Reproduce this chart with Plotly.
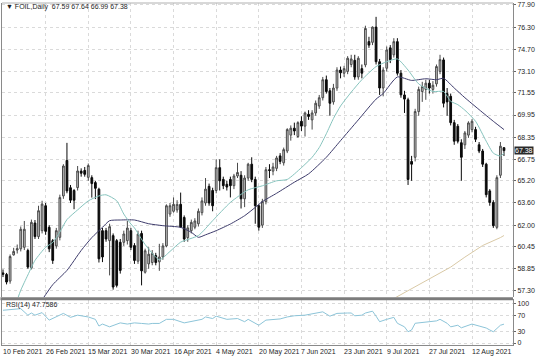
import plotly.graph_objects as go

# ---------------- data ----------------
opens = [58.55, 58.44, 57.96, 59.85, 60.20, 60.29, 60.40, 60.17, 58.92, 62.15,
         61.17, 61.60, 63.40, 61.84, 60.88, 60.50, 61.12, 64.11, 66.67, 64.70,
         64.50, 64.71, 65.90, 65.95, 65.45, 65.43, 65.07, 64.59, 61.60, 61.60,
         60.88, 61.24, 60.88, 60.76, 60.76, 60.88, 61.60, 60.52, 59.40, 61.40,
         58.60, 59.20, 59.30, 59.80, 59.35, 59.70, 60.50, 62.80, 63.00, 63.10,
         63.50, 62.55, 61.10, 61.60, 61.85, 62.10, 62.90, 63.60, 64.80, 64.50,
         64.50, 66.15, 65.30, 64.95, 65.30, 64.85, 65.55, 65.60, 63.90, 65.40,
         66.40, 65.30, 63.40, 62.00, 63.70, 66.00, 65.90, 66.10, 67.00, 66.50,
         67.35, 68.50, 69.00, 68.40, 69.50, 69.15, 70.00, 69.60, 70.10, 70.60,
         71.20, 72.50, 71.70, 70.90, 71.90, 73.20, 72.97, 73.10, 73.60, 73.90,
         72.70, 73.30, 73.57, 75.25, 75.20, 76.30, 73.80, 71.90, 73.33, 74.80,
         74.30, 75.25, 72.97, 71.40, 71.05, 66.60, 66.90, 70.20, 71.65, 71.80,
         72.25, 71.80, 72.20, 73.10, 73.93, 71.50, 71.30, 69.40, 69.14, 67.95,
         67.80, 68.50, 68.90, 68.90, 67.80, 67.35, 66.40, 64.47, 63.64, 61.84,
         65.60, 67.59]
highs = [58.80, 58.55, 59.88, 60.36, 60.60, 61.90, 62.30, 60.30, 62.40, 62.37,
         63.40, 63.76, 63.60, 62.00, 61.00, 61.80, 64.20, 66.40, 67.94, 64.90,
         64.60, 66.27, 66.10, 66.20, 66.45, 65.60, 65.20, 64.70, 61.80, 61.80,
         62.10, 61.40, 61.00, 61.00, 61.60, 62.30, 61.80, 60.70, 61.60, 61.60,
         60.30, 60.40, 60.20, 60.00, 60.65, 60.70, 63.50, 63.60, 64.00, 63.80,
         64.35, 62.70, 62.00, 62.40, 62.50, 63.20, 64.00, 65.40, 65.00, 64.70,
         66.75, 66.75, 65.50, 65.20, 65.50, 65.70, 66.50, 65.90, 65.60, 66.50,
         66.90, 65.50, 63.50, 63.90, 66.20, 66.40, 66.50, 67.00, 67.20, 67.60,
         69.00, 69.20, 69.40, 69.50, 69.86, 70.20, 70.30, 70.30, 71.00, 71.40,
         72.70, 72.80, 71.90, 72.20, 73.40, 73.45, 73.50, 74.20, 74.30, 74.30,
         74.20, 73.60, 76.40, 75.60, 76.35, 77.04, 74.00, 73.40, 74.90, 75.00,
         75.50, 75.50, 73.20, 71.70, 71.20, 67.00, 70.40, 72.00, 72.35, 72.50,
         72.50, 72.40, 73.60, 74.30, 74.10, 71.90, 71.50, 69.60, 69.30, 68.20,
         68.80, 69.50, 69.65, 69.10, 68.00, 67.50, 66.50, 64.60, 63.80, 65.60,
         68.00, 67.64]
lows = [58.25, 57.72, 57.77, 59.80, 59.95, 60.10, 60.20, 58.85, 58.80, 61.00,
        61.00, 61.40, 61.30, 60.05, 59.20, 60.30, 60.90, 63.90, 64.30, 63.60,
        63.15, 64.50, 65.50, 65.50, 65.20, 63.99, 63.88, 59.30, 59.33, 60.80,
        58.37, 57.34, 57.50, 58.50, 60.50, 60.60, 60.20, 59.20, 59.20, 57.65,
        58.50, 58.85, 59.10, 59.10, 58.70, 59.50, 60.40, 62.60, 62.90, 62.90,
        61.80, 60.80, 60.80, 61.40, 61.70, 61.90, 62.70, 63.40, 63.40, 63.00,
        64.30, 64.50, 64.60, 64.50, 64.00, 64.60, 65.40, 63.20, 63.30, 65.20,
        65.10, 62.10, 61.60, 61.80, 63.50, 65.40, 65.60, 65.90, 66.40, 66.30,
        67.20, 68.10, 68.50, 68.30, 68.80, 68.40, 69.60, 68.90, 69.90, 70.40,
        71.00, 71.50, 69.90, 70.70, 71.70, 72.60, 72.70, 72.90, 73.40, 72.50,
        72.50, 72.60, 73.40, 74.80, 75.00, 73.60, 71.40, 71.30, 73.10, 73.70,
        74.10, 72.80, 71.20, 70.10, 64.90, 65.20, 66.60, 69.90, 70.90, 71.05,
        71.50, 71.50, 72.00, 72.90, 70.50, 69.90, 69.20, 67.80, 67.90, 65.20,
        67.50, 68.30, 68.70, 68.00, 67.20, 66.20, 64.00, 63.40, 61.80, 61.70,
        65.40, 66.99]
closes = [58.45, 57.89, 59.73, 60.10, 60.30, 61.70, 61.70, 58.97, 62.20, 61.17,
          63.04, 63.52, 61.55, 60.29, 59.45, 61.60, 63.99, 66.27, 64.47, 63.80,
          63.80, 65.91, 65.75, 65.67, 66.30, 65.00, 64.66, 59.57, 59.70, 61.00,
          61.89, 57.53, 57.65, 58.73, 61.36, 61.79, 60.40, 59.45, 61.35, 58.70,
          60.15, 59.90, 59.95, 59.30, 59.70, 60.50, 63.40, 63.40, 63.50, 63.50,
          61.85, 61.00, 61.80, 62.20, 62.30, 63.00, 63.75, 64.60, 63.60, 63.40,
          66.15, 65.20, 64.85, 64.75, 64.85, 65.55, 65.80, 63.90, 65.40, 66.40,
          65.30, 63.40, 61.85, 63.70, 66.00, 65.95, 66.20, 66.85, 66.60, 67.45,
          68.90, 69.00, 68.80, 69.40, 69.15, 70.10, 69.85, 70.10, 70.80, 71.20,
          72.50, 71.65, 70.80, 71.90, 73.20, 73.00, 73.30, 74.05, 74.00, 72.70,
          74.05, 72.97, 76.20, 75.00, 76.30, 73.80, 71.90, 73.20, 74.65, 73.95,
          75.25, 72.97, 71.41, 71.10, 65.30, 66.40, 70.20, 71.80, 72.00, 72.25,
          71.90, 72.10, 73.45, 73.95, 70.80, 70.90, 69.40, 68.06, 68.06, 66.90,
          68.66, 69.38, 69.50, 68.20, 67.35, 66.40, 64.20, 63.64, 61.96, 65.43,
          67.70, 67.38]
bars = list(range(len(closes)))

# moving averages read at sampled bars
fast_ma_idx = [4, 5, 7, 9, 12, 14, 16, 18, 21, 24, 27, 29, 32, 34, 36, 37, 40, 44,
               47, 50, 55, 59, 64, 69, 73, 77, 80, 84, 87, 89, 91, 93, 95, 98, 101,
               105, 108, 111, 114, 117, 121, 124, 126, 128, 130, 133, 136, 138, 140, 141]
fast_ma_val = [56.60, 57.30, 58.40, 59.45, 60.40, 60.75, 61.50, 62.40, 63.10, 63.75,
               64.11, 64.19, 63.76, 62.80, 62.08, 61.80, 60.60, 59.50,
               60.10, 60.77, 61.25, 62.32, 63.64, 64.55, 64.84, 65.20, 65.30, 66.15,
               66.90, 67.60, 68.60, 69.70, 70.60, 71.60, 72.50,
               73.45, 73.80, 74.00, 73.20, 72.20, 71.65, 71.65, 70.94, 70.70, 70.30,
               69.50, 68.06, 67.20, 66.99, 67.20]
slow_ma_idx = [11, 14, 18, 22, 25, 28, 30, 33, 37, 41, 45, 50, 53, 55, 57, 60, 64,
               68, 71, 73, 77, 82, 86, 91, 95, 100, 105, 107, 111, 115, 119, 122,
               124, 127, 130, 134, 138, 141]
slow_ma_val = [56.60, 57.70, 58.73, 60.17, 61.10, 61.84, 62.32, 62.37, 62.37, 62.10,
               61.96, 61.84, 61.48, 61.12, 61.30, 61.60, 62.08, 62.68, 63.28, 63.70,
               64.30, 65.10, 65.70, 66.90, 68.10, 69.60, 71.10, 71.50, 72.70, 72.45,
               72.57, 72.50, 72.60, 71.90, 71.20, 70.34, 69.50, 68.90]
long_ma_idx = [110, 119, 121, 126, 130, 135, 140, 141]
long_ma_val = [56.70, 58.00, 58.25, 58.97, 59.69, 60.53, 61.10, 61.25]

rsi_idx = [0, 2, 5, 7, 8, 9, 11, 13, 16, 17, 19, 21, 24, 26, 27, 28, 30, 31, 33, 35,
           37, 39, 41, 42, 44, 46, 48, 51, 54, 56, 57, 59, 60, 63, 66, 68, 69, 72,
           74, 77, 78, 80, 82, 85, 86, 88, 90, 92, 94, 97, 98, 99, 101, 102, 104,
           105, 106, 108, 110, 111, 113, 114, 115, 116, 118, 120, 122, 123, 125,
           126, 128, 129, 132, 134, 136, 137, 138, 140, 141]
rsi_val = [83, 85, 87, 70.5, 76, 70.5, 77, 58, 70.5, 75, 65, 70.5, 66, 60, 43, 48,
           41, 45, 51, 48, 51, 49.6, 48, 49.6, 49.6, 60, 60, 51, 56, 60, 66, 62, 68,
           60, 62, 54, 60, 45, 58, 60, 61, 66, 69, 70.5, 72, 75, 79, 68, 75, 76, 76,
           69, 70.5, 76, 80.6, 68, 54, 60, 65, 50, 41, 28.5, 33, 50, 52, 53, 56, 60,
           50, 41, 45, 38.5, 48, 43, 38, 33, 28.5, 45, 47.7586]

date_tick_idx = [0, 12, 24, 36, 48, 60, 72, 84, 96, 108, 120, 132]
date_tick_text = ["10 Feb 2021", "26 Feb 2021", "15 Mar 2021", "30 Mar 2021",
                  "16 Apr 2021", "4 May 2021", "20 May 2021", "7 Jun 2021",
                  "23 Jun 2021", "9 Jul 2021", "27 Jul 2021", "12 Aug 2021"]
price_ticks = [77.90, 76.30, 74.70, 73.10, 71.55, 69.95, 68.35, 66.75, 65.20,
               63.60, 62.00, 60.45, 58.85, 57.30]
rsi_ticks = [100, 70, 30, 0]

# ---------------- figure ----------------
W, H = 536, 357
ML, MR, MT, MB = 1, 23, 1, 12
PH = H - MT - MB
main_dom = [(345 - 297) / PH, 1.0]
rsi_dom = [0.0, 45 / PH]
FONT = "Liberation Sans, Arial, sans-serif"
TXT = "#1e1e1e"
GRID = "#dadada"

fig = go.Figure()
fig.add_trace(go.Candlestick(
    x=bars, open=opens, high=highs, low=lows, close=closes,
    increasing=dict(line=dict(color="#4a4a4a", width=1), fillcolor="#c6c6c6"),
    decreasing=dict(line=dict(color="#0a0a0a", width=1), fillcolor="#0a0a0a"),
    whiskerwidth=0, showlegend=False, hoverinfo="skip",
    xaxis="x", yaxis="y"))
fig.add_trace(go.Scatter(x=long_ma_idx, y=long_ma_val, mode="lines",
                         line=dict(color="#d9c9a6", width=1), showlegend=False,
                         xaxis="x", yaxis="y"))
fig.add_trace(go.Scatter(x=slow_ma_idx, y=slow_ma_val, mode="lines",
                         line=dict(color="#3d3b6b", width=1, shape="spline", smoothing=0.6),
                         showlegend=False, xaxis="x", yaxis="y"))
fig.add_trace(go.Scatter(x=fast_ma_idx, y=fast_ma_val, mode="lines",
                         line=dict(color="#86c3bd", width=1, shape="spline", smoothing=0.6),
                         showlegend=False, xaxis="x", yaxis="y"))
fig.add_trace(go.Scatter(x=rsi_idx, y=rsi_val, mode="lines",
                         line=dict(color="#8cc4d8", width=1), showlegend=False,
                         xaxis="x", yaxis="y2"))

x_lo = (1 - 2) / 3.56
x_hi = (513 - 2) / 3.56

fig.update_layout(
    width=W, height=H,
    margin=dict(l=ML, r=MR, t=MT, b=MB, pad=0),
    paper_bgcolor="white", plot_bgcolor="white",
    font=dict(family=FONT, size=7, color=TXT),
    xaxis=dict(range=[x_lo, x_hi], anchor="y2", domain=[0, 1],
               tickvals=date_tick_idx, showticklabels=False, ticks="",
               showgrid=True, gridcolor=GRID, griddash="dot", gridwidth=1,
               zeroline=False, showline=True, mirror=True, linecolor="#8a8a8a",
               linewidth=1, rangeslider=dict(visible=False), fixedrange=True),
    yaxis=dict(domain=main_dom, range=[56.79, 78.04], side="right", anchor="x",
               tickvals=price_ticks, ticktext=[f"{v:.2f}" for v in price_ticks],
               ticks="outside", ticklen=2, tickcolor="#666",
               ticklabeloverflow="allow",
               tickfont=dict(size=7, color=TXT, family=FONT),
               showgrid=True, gridcolor=GRID, griddash="dot", gridwidth=1,
               zeroline=False, showline=True, mirror=True, linecolor="#8a8a8a",
               linewidth=1, fixedrange=True),
    yaxis2=dict(domain=rsi_dom, range=[-5.04, 108.3], side="right", anchor="x",
                tickvals=rsi_ticks, ticktext=[str(v) for v in rsi_ticks],
                ticks="outside", ticklen=2, tickcolor="#666",
                ticklabeloverflow="allow",
                tickfont=dict(size=7, color=TXT, family=FONT),
                showgrid=True, gridcolor=GRID, griddash="dot", gridwidth=1,
                zeroline=False, showline=True, mirror=True, linecolor="#8a8a8a",
                linewidth=1, fixedrange=True),
)

# top border of main panel and separator bar between panels
fig.add_shape(type="line", xref="paper", yref="paper", x0=0, x1=1, y0=1, y1=1,
              line=dict(color="#b0b0b0", width=1))
fig.add_shape(type="rect", xref="paper", yref="paper", x0=-0.003, x1=1.0,
              y0=(345 - 300) / PH, y1=(345 - 297) / PH,
              fillcolor="#7c7c7c", line=dict(width=0), layer="above")

# date labels (left aligned at the bar, like the terminal)
for idx, txt in zip(date_tick_idx, date_tick_text):
    fig.add_annotation(x=idx, xref="x", y=(345 - 352) / PH, yref="paper",
                       text=txt, showarrow=False, xanchor="left", yanchor="middle",
                       xshift=-2, font=dict(size=7, color=TXT, family=FONT))

# header and RSI caption
fig.add_annotation(xref="paper", yref="paper", x=0.004, y=1 - 4 / PH,
                   text=f"▼ FOIL,Daily  {opens[-1]:.2f} {highs[-1]:.2f} {lows[-1]:.2f} {closes[-1]:.2f}",
                   showarrow=False, xanchor="left", yanchor="middle",
                   font=dict(size=7, color=TXT, family=FONT))
fig.add_annotation(xref="paper", yref="paper", x=0.004, y=(345 - 304.5) / PH,
                   text=f"RSI(14) {rsi_val[-1]:.4f}",
                   showarrow=False, xanchor="left", yanchor="middle",
                   font=dict(size=7, color=TXT, family=FONT))

# current price tag on the price scale
fig.add_annotation(xref="paper", yref="y", x=1.0, y=closes[-1],
                   text=f"{closes[-1]:.2f}", showarrow=False,
                   xanchor="left", yanchor="middle", xshift=1,
                   bgcolor="#2a2a2a", borderpad=0,
                   font=dict(size=7, color="white", family=FONT))

fig.write_html("out.html",
               config={"displayModeBar": False, "staticPlot": True},
               post_script="document.body.style.margin='0';document.body.style.padding='0';"
                           "document.documentElement.style.overflow='hidden';")
